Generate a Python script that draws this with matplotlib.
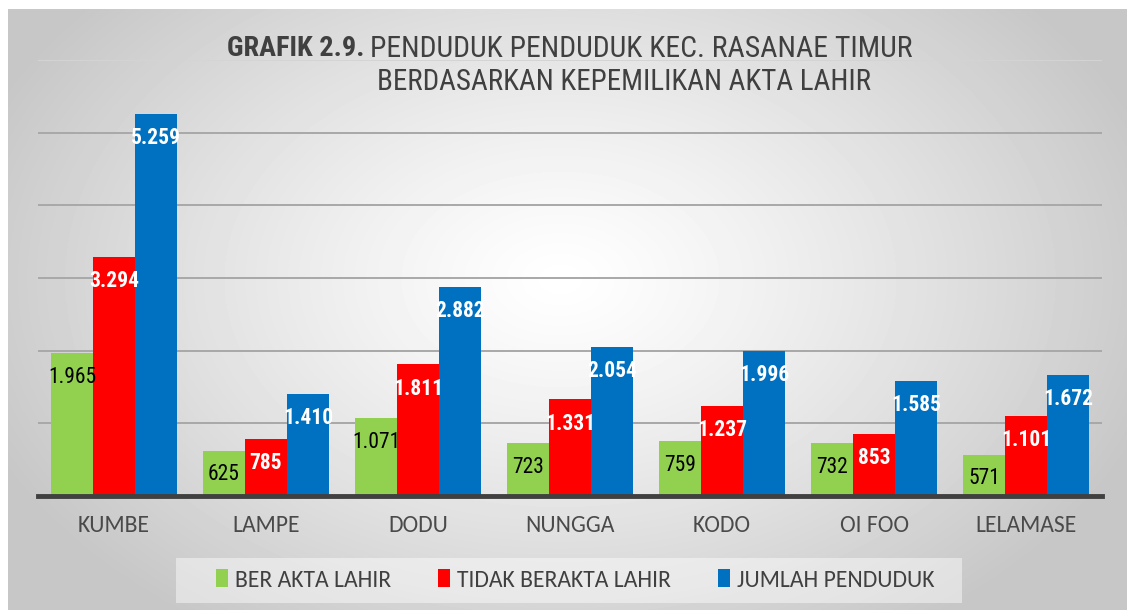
import numpy as np
import matplotlib
matplotlib.use("Agg")
from matplotlib import pyplot as plt
from matplotlib.patches import Rectangle, Patch

# Penduduk Kec. Rasanae Timur per kelurahan
kelurahan = ["KUMBE", "LAMPE", "DODU", "NUNGGA", "KODO", "OI FOO", "LELAMASE"]
ber_akta = [1965, 625, 1071, 723, 759, 732, 571]
tidak_akta = [3294, 785, 1811, 1331, 1237, 853, 1101]
jumlah = [5259, 1410, 2882, 2054, 1996, 1585, 1672]

series_names = ["BER AKTA LAHIR", "TIDAK BERAKTA LAHIR", "JUMLAH PENDUDUK"]
colors = ["#92d050", "#ff0000", "#0070c0"]

narrow = ["Roboto Condensed", "DejaVu Sans"]
body = ["Carlito", "DejaVu Sans"]

W, H = 1127, 610
fig = plt.figure(figsize=(W / 100, H / 100), dpi=100)
fig.patch.set_facecolor("white")

# grey radial background panel
bg = fig.add_axes([8 / W, 0, (W - 8) / W, (H - 9) / H])
bg.set_axis_off()
yy, xx = np.mgrid[0:H - 9, 0:W - 8]
r = np.sqrt(((xx - 552) / 620.0) ** 2 + ((yy - 270) / 420.0) ** 2)
r = np.clip(r, 0, 1)
shade = 1 - 0.22 * r ** 1.2
bg.imshow(shade, cmap="gray", vmin=0, vmax=1, aspect="auto",
          interpolation="bilinear", extent=[0, 1, 0, 1])
bg.set_xlim(0, 1)
bg.set_ylim(0, 1)

ax = fig.add_axes([38 / W, (H - 496) / H, (1102 - 38) / W, (496 - 60) / H])
ax.patch.set_alpha(0)

x = np.arange(len(kelurahan))
w = 0.276
data = [ber_akta, tidak_akta, jumlah]
for i, (vals, c) in enumerate(zip(data, colors)):
    bars = ax.bar(x + (i - 1) * w, vals, width=w, color=c, zorder=3)
    for b, v in zip(bars, vals):
        txt = f"{v:,}".replace(",", ".")
        if i == 0:
            kw = dict(color="black", fontweight="normal")
        else:
            kw = dict(color="white", fontweight="bold")
        ax.annotate(txt, (b.get_x() + b.get_width() / 2, v),
                    xytext=(0, -17.5), textcoords="offset points",
                    ha="center", va="center", fontsize=15.5,
                    family=narrow, zorder=4, **kw)

ax.set_xlim(-0.5, len(kelurahan) - 0.5)
ax.set_ylim(0, 6000)
ax.set_yticks(np.arange(1000, 6001, 1000))
ax.set_yticklabels([])
ax.grid(axis="y", color="#a8a8a8", linewidth=1.4, zorder=1)
# top line sits behind the title and is fainter
ax.yaxis.get_gridlines()[-1].set_color("#d4d4d4")
ax.tick_params(length=0)
for s in ["top", "right", "left"]:
    ax.spines[s].set_visible(False)
ax.spines["bottom"].set_color("#404040")
ax.spines["bottom"].set_linewidth(3.5)
ax.spines["bottom"].set_zorder(5)
ax.set_xticks(x)
ax.set_xticklabels(kelurahan, family=body, fontsize=17, color="#4a4a4a")
ax.tick_params(axis="x", pad=14)

# title, two lines; font size fitted to the line widths
renderer = fig.canvas.get_renderer()


def fit_text(x0, x1, yc, s, weight="normal"):
    t = fig.text(x0 / W, 1 - yc / H, s, family=narrow, fontsize=22,
                 fontweight=weight, color="#404040", va="center", ha="left")
    wd = t.get_window_extent(renderer).width
    t.set_fontsize(22 * (x1 - x0) / wd)
    return t


fit_text(227, 364, 49, "GRAFIK 2.9.", weight="bold")
fit_text(370, 912, 49, "PENDUDUK PENDUDUK KEC. RASANAE TIMUR")
fit_text(377, 869, 82, "BERDASARKAN KEPEMILIKAN AKTA LAHIR")

# legend box
fig.patches.append(Rectangle((176 / W, (H - 603) / H), (962 - 176) / W, 45 / H,
                             transform=fig.transFigure, facecolor="white",
                             alpha=0.45, edgecolor="none", zorder=0))
handles = [Patch(facecolor=c, edgecolor="none") for c in colors]
leg = fig.legend(handles, series_names, loc="center", ncol=3,
                 bbox_to_anchor=(575 / W, 1 - 580 / H), frameon=False,
                 prop={"family": body, "size": 17},
                 handlelength=0.5, handleheight=0.8, handletextpad=0.3,
                 columnspacing=2.0)
for t in leg.get_texts():
    t.set_color("#404040")

fig.savefig("out.png", dpi=100)
